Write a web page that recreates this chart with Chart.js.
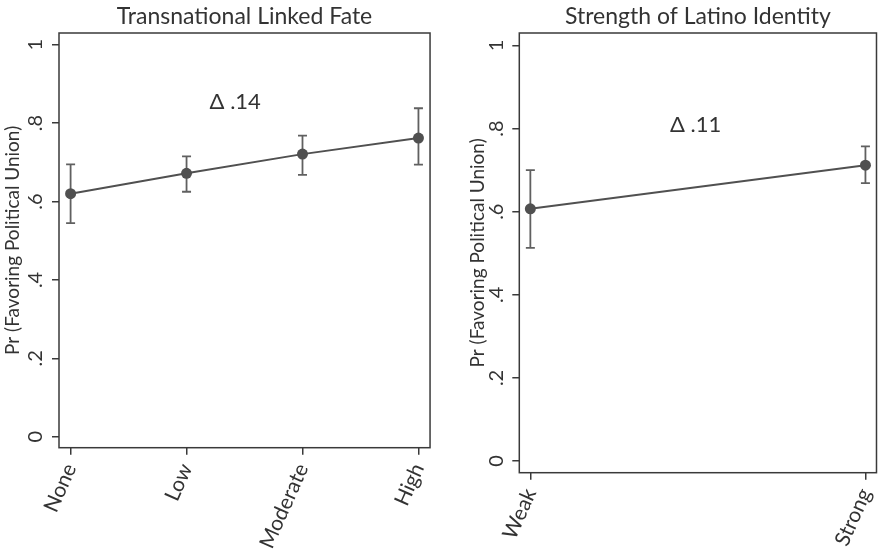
<!DOCTYPE html>
<html>
<head>
<meta charset="utf-8">
<script src="https://cdn.jsdelivr.net/npm/chart.js@4.4.1/dist/chart.umd.min.js"></script>
<style>
  html, body { margin: 0; padding: 0; background: #fff; }
  #wrap { position: relative; width: 894px; height: 553px; }
  .panel { position: absolute; top: 0; width: 447px; height: 553px; }
</style>
</head>
<body>
<div id="wrap">
  <div class="panel" style="left:0"><canvas id="fateChart" width="447" height="553"></canvas></div>
  <div class="panel" style="left:447px"><canvas id="identityChart" width="447" height="553"></canvas></div>
</div>
<script>
// Transnational linked fate
const fateLabels = ['None', 'Low', 'Moderate', 'High'];
const fateValues = [0.620, 0.672, 0.721, 0.762];
const fateLower = [0.545, 0.625, 0.668, 0.694];
const fateUpper = [0.695, 0.715, 0.768, 0.838];
const fateDelta = 'Δ .14';

// Strength of Latino identity
const identityLabels = ['Weak', 'Strong'];
const identityValues = [0.607, 0.712];
const identityLower = [0.513, 0.669];
const identityUpper = [0.700, 0.757];
const identityDelta = 'Δ .11';

const yTicks = [0, 0.2, 0.4, 0.6, 0.8, 1];
const yTitle = 'Pr (Favoring Political Union)';

const FONT = 'Lato, "Open Sans", sans-serif';
const INK = '#333333';
const LINE = '#505050';

function fmtTick(v) {
  if (v === 0) return '0';
  if (v === 1) return '1';
  return String(+v.toFixed(1)).replace('0.', '.');
}

// error bars, plot frame, rotated y tick labels and delta note
const panelExtras = {
  id: 'panelExtras',
  beforeDatasetsDraw(chart, args, opts) {
    const { ctx } = chart;
    const xs = chart.scales.x, ys = chart.scales.y;
    ctx.save();
    ctx.strokeStyle = '#606060';
    ctx.lineWidth = 1.8;
    opts.lower.forEach((lo, i) => {
      const px = xs.getPixelForValue(i);
      const y1 = ys.getPixelForValue(lo);
      const y2 = ys.getPixelForValue(opts.upper[i]);
      ctx.beginPath();
      ctx.moveTo(px, y1); ctx.lineTo(px, y2);
      ctx.moveTo(px - 4.5, y1); ctx.lineTo(px + 4.5, y1);
      ctx.moveTo(px - 4.5, y2); ctx.lineTo(px + 4.5, y2);
      ctx.stroke();
    });
    ctx.restore();
  },
  afterDraw(chart, args, opts) {
    const { ctx, chartArea: a } = chart;
    const xs = chart.scales.x, ys = chart.scales.y;
    ctx.save();
    ctx.strokeStyle = '#3a3a3a';
    ctx.lineWidth = 1.5;
    ctx.strokeRect(a.left, a.top, a.right - a.left, a.bottom - a.top);

    ctx.fillStyle = INK;
    ctx.font = '20px ' + FONT;
    ctx.textAlign = 'center';
    ctx.textBaseline = 'middle';
    yTicks.forEach(v => {
      const py = ys.getPixelForValue(v);
      ctx.save();
      ctx.translate(a.left - 23, py);
      ctx.rotate(-Math.PI / 2);
      ctx.fillText(fmtTick(v), 0, 0);
      ctx.restore();
    });

    ctx.font = '22px ' + FONT;
    ctx.fillText(opts.delta, xs.getPixelForValue(opts.noteX), ys.getPixelForValue(opts.noteY));
    ctx.restore();
  }
};

function makePanel(id, title, labels, values, lower, upper, delta, layout) {
  const n = labels.length;
  return new Chart(document.getElementById(id), {
    type: 'line',
    data: {
      datasets: [{
        data: values.map((v, i) => ({ x: i, y: v })),
        borderColor: LINE,
        borderWidth: 2,
        pointRadius: 5.5,
        pointBackgroundColor: LINE,
        pointBorderColor: LINE,
        pointBorderWidth: 0,
        tension: 0
      }]
    },
    options: {
      responsive: false,
      animation: false,
      devicePixelRatio: 1,
      layout: { padding: { left: 0, right: layout.rightPad, top: 0, bottom: 0 } },
      plugins: {
        legend: { display: false },
        tooltip: { enabled: false },
        title: {
          display: true,
          text: title,
          fullSize: false,
          color: INK,
          font: { family: FONT, size: 23, weight: 'normal' },
          padding: { top: 3, bottom: 2.4 }
        },
        panelExtras: { lower, upper, delta, noteX: layout.noteX, noteY: layout.noteY }
      },
      scales: {
        x: {
          type: 'linear',
          min: -layout.xPad,
          max: n - 1 + layout.xPad,
          afterBuildTicks: s => { s.ticks = labels.map((_, i) => ({ value: i })); },
          afterFit: s => { s.height = layout.xHeight; },
          border: { display: false },
          grid: { display: true, drawOnChartArea: false, drawTicks: true, tickLength: 7, color: '#3a3a3a', lineWidth: 1.5 },
          ticks: {
            color: INK,
            font: { family: FONT, size: 21 },
            minRotation: 66,
            maxRotation: 66,
            autoSkip: false,
            padding: 5,
            callback: v => labels[v]
          }
        },
        y: {
          min: -0.028,
          max: 1.03,
          afterBuildTicks: s => { s.ticks = yTicks.map(v => ({ value: v })); },
          afterFit: s => { s.width = layout.yWidth; },
          border: { display: false },
          grid: { display: true, drawOnChartArea: false, drawTicks: true, tickLength: 7, color: '#3a3a3a', lineWidth: 1.5 },
          ticks: { display: false },
          title: {
            display: true,
            text: yTitle,
            color: INK,
            font: { family: FONT, size: 19 },
            padding: { top: layout.titlePad, bottom: 0 }
          }
        }
      }
    },
    plugins: [panelExtras]
  });
}

makePanel('fateChart', 'Transnational Linked Fate', fateLabels, fateValues, fateLower, fateUpper, fateDelta,
  { xPad: 0.1, xHeight: 105.3, yWidth: 59, rightPad: 16, titlePad: 1, noteX: 1.42, noteY: 0.853 });

makePanel('identityChart', 'Strength of Latino Identity', identityLabels, identityValues, identityLower, identityUpper, identityDelta,
  { xPad: 0.033, xHeight: 80.3, yWidth: 72.3, rightPad: 2.3, titlePad: 19, noteX: 0.493, noteY: 0.808 });
</script>
</body>
</html>
